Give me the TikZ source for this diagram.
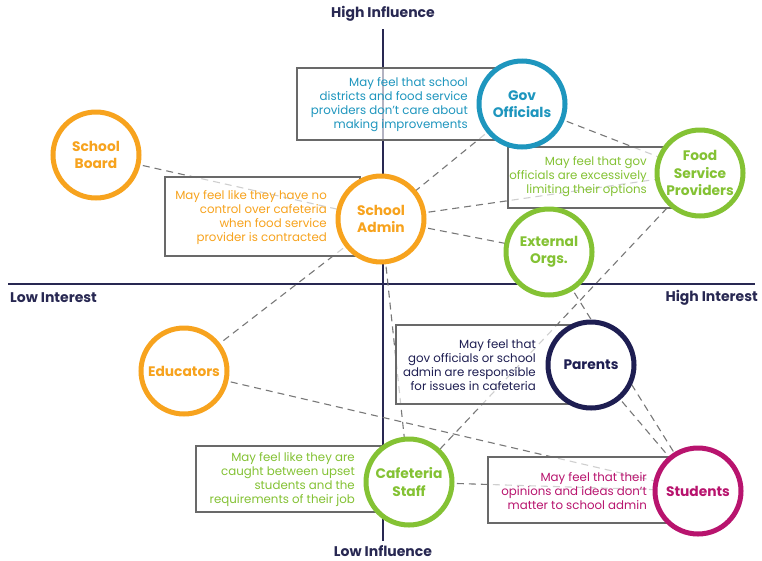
\documentclass[tikz,border=0pt]{standalone}
\usepackage{fontspec}
\setmainfont{Poppins}
\definecolor{axisnavy}{RGB}{40,40,82}
\definecolor{linkgray}{RGB}{120,120,120}
\definecolor{boxgray}{RGB}{105,105,105}
\definecolor{govblue}{RGB}{30,150,190}
\definecolor{schorange}{RGB}{247,163,30}
\definecolor{grpgreen}{RGB}{132,194,52}
\definecolor{parnavy}{RGB}{30,30,82}
\definecolor{stumag}{RGB}{184,20,110}
\tikzset{
  axisline/.style={draw=axisnavy, line width=1.3pt},
  axislabel/.style={font=\fontsize{14}{16}\selectfont\bfseries, text=axisnavy, inner sep=0pt},
  link/.style={draw=linkgray, line width=1.1pt, dash pattern=on 7pt off 5pt},
  notebox/.style={rectangle, draw=boxgray, line width=1.1pt, fill=white, fill opacity=0.65, inner sep=0pt},
  note/.style={anchor=east, align=right, inner sep=0pt, font=\fontsize{11.8}{14}\selectfont},
  actor/.style={circle, draw, line width=5pt, fill=white, minimum size=86pt, inner sep=0pt,
    align=center, font=\fontsize{13.8}{17.5}\selectfont\bfseries},
}
\begin{document}
\begin{tikzpicture}[x=1pt,y=-1pt]
\useasboundingbox (0,0) rectangle (762,560);

% axes of the grid
\coordinate (top) at (383,29);
\coordinate (bottom) at (383,541);
\coordinate (left) at (8,284);
\coordinate (right) at (755,284);
\draw[axisline] (top) -- (bottom);
\draw[axisline] (left) -- (right);
\node[axislabel] (hiinf) at (383,14) {High Influence};
\node[axislabel] (loinf) at (383,551) {Low Influence};
\node[axislabel, anchor=west] (loint) at (10,298) {Low Interest};
\node[axislabel, anchor=east] (hiint) at (758,298) {High Interest};

% stakeholder positions
\coordinate (pGov) at (522,104);
\coordinate (pFood) at (700,173);
\coordinate (pBoard) at (96,155);
\coordinate (pAdmin) at (381,219);
\coordinate (pExt) at (549,252);
\coordinate (pEdu) at (184,371);
\coordinate (pPar) at (591,365);
\coordinate (pCaf) at (409,482);
\coordinate (pStu) at (698,491);

% relationships
\draw[link] (pBoard) -- (pAdmin);
\draw[link] (pGov) -- (pAdmin);
\draw[link] (pGov) -- (pFood);
\draw[link] (pAdmin) -- (pFood);
\draw[link] (pAdmin) -- (pExt);
\draw[link] (pAdmin) -- (pEdu);
\draw[link] (pAdmin) -- (pCaf);
\draw[link] (pFood) -- (pCaf);
\draw[link] (pExt) -- (pStu);
\draw[link] (pPar) -- (pStu);
\draw[link] (pEdu) -- (pStu);
\draw[link] (pCaf) -- (pStu);

% perception boxes
\node[notebox, minimum width=203pt, minimum height=72pt] (govbox) at (398.5,104) {};
\node[notebox, minimum width=195pt, minimum height=79pt] (adminbox) at (262.5,216.5) {};
\node[notebox, minimum width=172pt, minimum height=61pt] (foodbox) at (594,177.5) {};
\node[notebox, minimum width=174pt, minimum height=79pt] (parbox) at (483,364.5) {};
\node[notebox, minimum width=194pt, minimum height=66pt] (cafbox) at (293,479) {};
\node[notebox, minimum width=182pt, minimum height=66pt] (stubox) at (579,490) {};

% stakeholders
\node[actor, draw=govblue, text=govblue] (gov) at (pGov) {Gov\\Officials};
\node[actor, draw=grpgreen, text=grpgreen] (food) at (pFood) {Food\\Service\\Providers};
\node[actor, draw=schorange, text=schorange] (board) at (pBoard) {School\\Board};
\node[actor, draw=schorange, text=schorange] (admin) at (pAdmin) {School\\Admin};
\node[actor, draw=grpgreen, text=grpgreen] (ext) at (pExt) {External\\Orgs.};
\node[actor, draw=schorange, text=schorange] (edu) at (pEdu) {Educators};
\node[actor, draw=parnavy, text=parnavy] (par) at (pPar) {Parents};
\node[actor, draw=grpgreen, text=grpgreen] (caf) at (pCaf) {Cafeteria\\Staff};
\node[actor, draw=stumag, text=stumag] (stu) at (pStu) {Students};

% perception texts
\node[note, text=govblue] (govnote) at (468,105) {May feel that school\\districts and food service\\providers don't care about\\making improvements};
\node[note, text=schorange] (adminnote) at (327,217.5) {May feel like they have no\\control over cafeteria\\when food service\\provider is contracted};
\node[note, text=grpgreen] (foodnote) at (647,177) {May feel that gov\\officials are excessively\\limiting their options};
\node[note, text=parnavy] (parnote) at (536,365) {May feel that\\gov officials or school\\admin are responsible\\for issues in cafeteria};
\node[note, text=grpgreen] (cafnote) at (355,480) {May feel like they are\\caught between upset\\students and the\\requirements of their job};
\node[note, text=stumag] (stunote) at (647,491) {May feel that their\\opinions and ideas don't\\matter to school admin};
\end{tikzpicture}
\end{document}
